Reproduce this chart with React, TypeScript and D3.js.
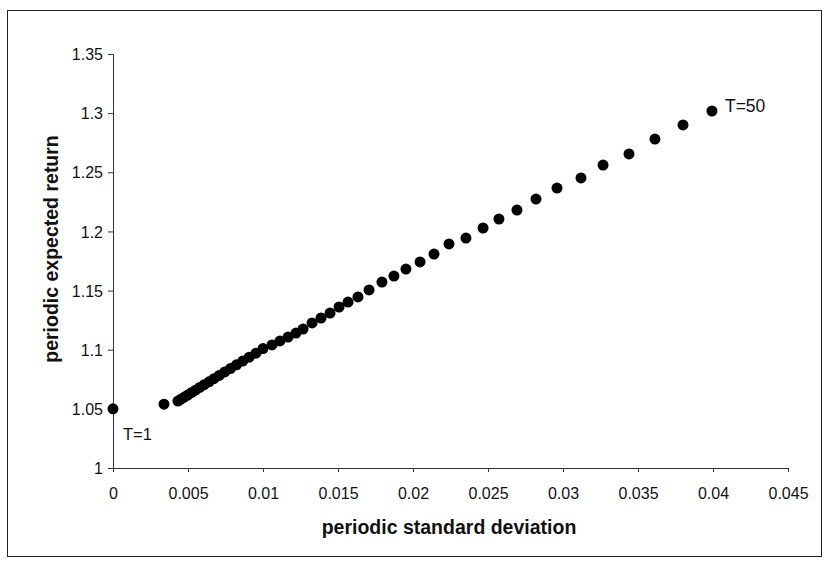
import React, { useEffect, useRef } from 'react';
import * as d3 from 'd3';

// periodic standard deviation (x) and periodic expected return (y), T = 1..50
const sigma = [
  0, 0.0034, 0.00433, 0.00453, 0.00475, 0.00498, 0.00523, 0.0055, 0.00578, 0.00608,
  0.0064, 0.00673, 0.00708, 0.00745, 0.00783, 0.00823, 0.00865, 0.00908, 0.00953, 0.01,
  0.0106, 0.01113, 0.01167, 0.0122, 0.01267, 0.01327, 0.01387, 0.01447, 0.01507, 0.01567,
  0.01633, 0.01707, 0.01793, 0.01873, 0.01953, 0.02047, 0.0214, 0.0224, 0.02353, 0.02467,
  0.02573, 0.02693, 0.0282, 0.0296, 0.0312, 0.03267, 0.0344, 0.03613, 0.038, 0.03993,
];
const mu = [
  1.05, 1.054, 1.0566, 1.0582, 1.0599, 1.0617, 1.0637, 1.0658, 1.0681, 1.0704,
  1.0729, 1.0755, 1.0783, 1.0812, 1.0841, 1.0872, 1.0904, 1.0937, 1.0971, 1.101,
  1.104, 1.1074, 1.1107, 1.1141, 1.1175, 1.1226, 1.1268, 1.131, 1.1361, 1.1403,
  1.1446, 1.1505, 1.1572, 1.1623, 1.1682, 1.1742, 1.1809, 1.1894, 1.1944, 1.2029,
  1.2105, 1.2181, 1.2274, 1.2367, 1.2452, 1.2561, 1.2655, 1.2781, 1.29, 1.3018,
];
const xTicks = [0, 0.005, 0.01, 0.015, 0.02, 0.025, 0.03, 0.035, 0.04, 0.045];
const yTicks = [1, 1.05, 1.1, 1.15, 1.2, 1.25, 1.3, 1.35];

const App = () => {
  const ref = useRef<SVGSVGElement>(null);

  useEffect(() => {
    const width = 825;
    const height = 564;
    const svg = d3.select(ref.current).attr('width', width).attr('height', height);
    svg.selectAll('*').remove();

    const font = '"Liberation Sans", Arial, sans-serif';
    const x = d3.scaleLinear().domain([0, 0.045]).range([113, 788]);
    const y = d3.scaleLinear().domain([1, 1.35]).range([468, 54]);

    // outer frame
    svg.append('rect')
      .attr('x', 7.5).attr('y', 10.5).attr('width', 814).attr('height', 546)
      .attr('fill', 'white').attr('stroke', '#222').attr('stroke-width', 1);

    const fmt = (v: number) => String(+v.toFixed(3));

    const gx = svg.append('g').attr('transform', `translate(0,${y(1)})`)
      .call(d3.axisBottom(x).tickValues(xTicks).tickFormat(fmt as any).tickSize(4).tickPadding(16));
    const gy = svg.append('g').attr('transform', `translate(${x(0)},0)`)
      .call(d3.axisLeft(y).tickValues(yTicks).tickFormat(fmt as any).tickSize(5).tickPadding(5));

    [gx, gy].forEach(g => {
      g.select('.domain').attr('stroke', '#333');
      g.selectAll('.tick line').attr('stroke', '#333');
      g.selectAll('.tick text').attr('font-family', font).attr('font-size', 16).attr('fill', '#111');
    });
    gy.selectAll('.tick text').attr('dy', '0.35em');

    // points
    svg.append('g')
      .selectAll('circle')
      .data(sigma.map((s, i) => [s, mu[i]]))
      .enter()
      .append('circle')
      .attr('cx', d => x(d[0]))
      .attr('cy', d => y(d[1]))
      .attr('r', 5.5)
      .attr('fill', '#000');

    // point labels
    svg.append('text')
      .attr('x', x(sigma[0]) + 10).attr('y', y(mu[0]) + 31)
      .attr('font-family', font).attr('font-size', 16.5).attr('fill', '#111')
      .text('T=1');
    svg.append('text')
      .attr('x', x(sigma[49]) + 13).attr('y', y(mu[49]) + 1)
      .attr('font-family', font).attr('font-size', 17.5).attr('fill', '#111')
      .text('T=50');

    // axis titles
    svg.append('text')
      .attr('x', 449).attr('y', 534)
      .attr('text-anchor', 'middle')
      .attr('font-family', font).attr('font-size', 19.5).attr('font-weight', 'bold').attr('fill', '#111')
      .text('periodic standard deviation');
    svg.append('text')
      .attr('transform', 'translate(58,249) rotate(-90)')
      .attr('text-anchor', 'middle')
      .attr('font-family', font).attr('font-size', 19.5).attr('font-weight', 'bold').attr('fill', '#111')
      .text('periodic expected return');
  }, []);

  return (
    <div style={{ position: 'absolute', left: 0, top: 0 }}>
      <svg ref={ref}></svg>
    </div>
  );
};

export default App;
